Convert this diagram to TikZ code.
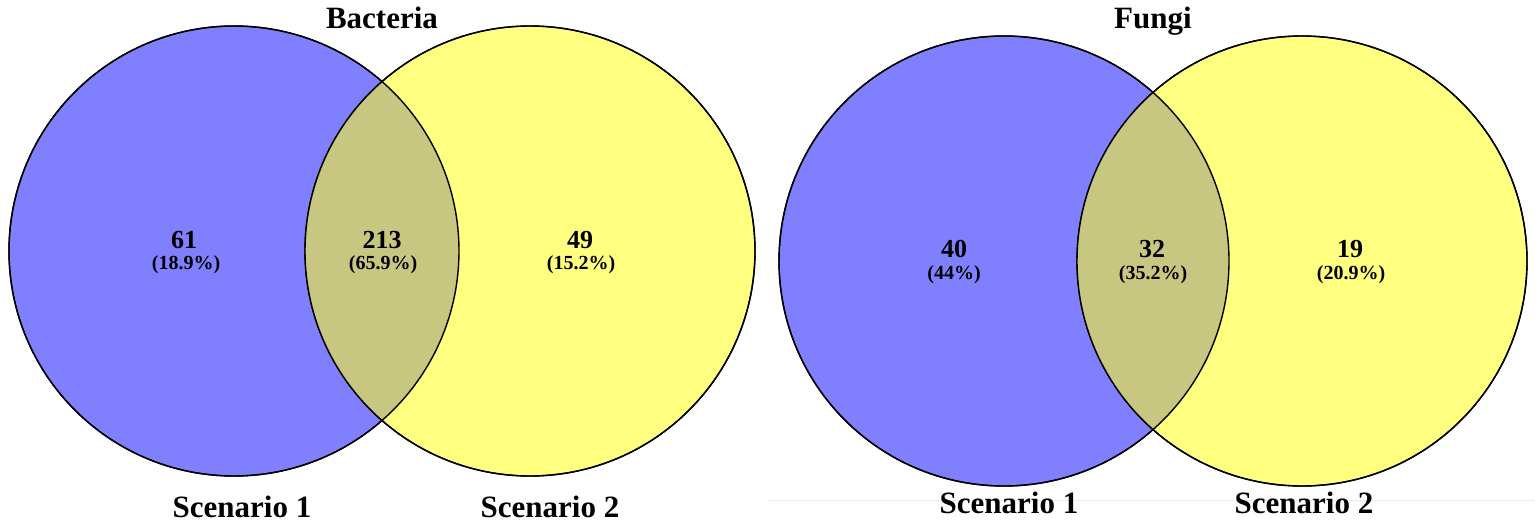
\documentclass[tikz,border=0pt]{standalone}
\usepackage{fontspec}
\setmainfont{Liberation Serif}
\definecolor{setblue}{HTML}{8080FF}
\definecolor{setyellow}{HTML}{FFFF80}
\definecolor{setboth}{HTML}{C8C782}

\begin{document}
\begin{tikzpicture}[x=1pt,y=-1pt,
    title/.style={font=\bfseries\fontsize{31}{31}\selectfont,anchor=base},
    count/.style={font=\bfseries\fontsize{26}{26}\selectfont,anchor=base},
    share/.style={font=\bfseries\fontsize{20}{20}\selectfont,anchor=base},
    setline/.style={line width=1.4pt}]
            \useasboundingbox (0,0) rectangle (1535,525);
            \def\r{225pt}

            % Bacteria
            \filldraw[setline,fill=setblue] (234,251) circle (\r);
            \filldraw[setline,fill=setyellow] (530,251) circle (\r);
            \begin{scope}
                \clip (234,251) circle (\r);
                \fill[setboth] (530,251) circle (\r);
            \end{scope}
            \draw[setline] (234,251) circle (\r);
            \draw[setline] (530,251) circle (\r);

            % Fungi
            \filldraw[setline,fill=setblue] (1004,261) circle (\r);
            \filldraw[setline,fill=setyellow] (1302,261) circle (\r);
            \begin{scope}
                \clip (1004,261) circle (\r);
                \fill[setboth] (1302,261) circle (\r);
            \end{scope}
            \draw[setline] (1004,261) circle (\r);
            \draw[setline] (1302,261) circle (\r);

            \draw[black!8, line width=0.8pt] (768,500) -- (1535,500);

            \path (382,28) node[title] (bactitle) {Bacteria};
            \path (1153,28) node[title] (funtitle) {Fungi};

            \path (184,248) node[count] (bacA) {61};
            \path (186,269) node[share] (bacApct) {(18.9\%)};
            \path (382,248) node[count] (bacAB) {213};
            \path (383,269) node[share] (bacABpct) {(65.9\%)};
            \path (580,248) node[count] (bacB) {49};
            \path (581,269) node[share] (bacBpct) {(15.2\%)};

            \path (954,257) node[count] (funA) {40};
            \path (954,279) node[share] (funApct) {(44\%)};
            \path (1152,257) node[count] (funAB) {32};
            \path (1153,279) node[share] (funABpct) {(35.2\%)};
            \path (1350,257) node[count] (funB) {19};
            \path (1351,279) node[share] (funBpct) {(20.9\%)};

            \path (242,517) node[title] (bacsc1) {Scenario 1};
            \path (550,517) node[title] (bacsc2) {Scenario 2};
            \path (1009,513) node[title] (funsc1) {Scenario 1};
            \path (1304,513) node[title] (funsc2) {Scenario 2};

        \end{tikzpicture}
\end{document}
